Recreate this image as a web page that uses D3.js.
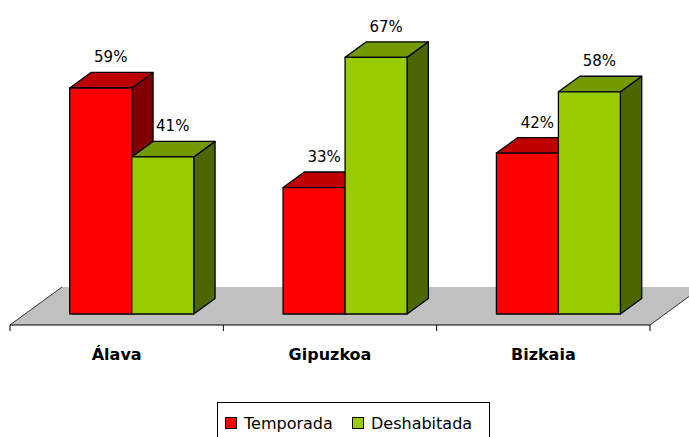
<!DOCTYPE html>
<html>
<head>
<meta charset="utf-8">
<script src="https://cdn.jsdelivr.net/npm/d3@7"></script>
<style>
  body { margin: 0; background: #fff; }
  svg { display: block; }
</style>
</head>
<body>
<svg id="chart"></svg>
<script>
//data
const categories = ['Álava', 'Gipuzkoa', 'Bizkaia'];
const seriesNames = ['Temporada', 'Deshabitada'];
const temporada = [59, 33, 42];
const deshabitada = [41, 67, 58];

//layout constants
const svgWidth = 689;
const svgHeight = 437;
const floorLeft = 10;
const floorRight = 650;
const floorY = 325;
const floorDx = 52, floorDy = -38;      // full depth of the floor
const barD0 = 0.29, barD1 = 0.70;       // bar front / back as fraction of floor depth
const groupWidth = 124;

//colours: front, top, side
const palette = {
  Temporada:   { front: '#ff0000', top: '#bf0000', side: '#800000' },
  Deshabitada: { front: '#99cc00', top: '#739900', side: '#4c6600' }
};

var svg = d3.select('#chart')
  .attr('width', svgWidth)
  .attr('height', svgHeight)
  .style('font-family', '"DejaVu Sans", sans-serif');

//scales
var xScale = d3.scaleBand()
  .domain(categories)
  .range([floorLeft, floorRight]);

var xSub = d3.scaleBand()
  .domain(seriesNames)
  .range([0, groupWidth]);

var hScale = d3.scaleLinear()
  .domain([0, 100])
  .range([0, 383]);

function proj(x, d) {
  return [x + floorDx * d, floorY + floorDy * d];
}

//floor
var fl = [proj(floorLeft, 0), proj(floorRight, 0), proj(floorRight, 1), proj(floorLeft, 1)];
svg.append('polygon')
  .attr('points', fl.map(p => p.join(',')).join(' '))
  .attr('fill', '#c0c0c0');
svg.append('line')
  .attr('x1', fl[0][0]).attr('y1', fl[0][1]).attr('x2', fl[3][0]).attr('y2', fl[3][1])
  .attr('stroke', '#333').attr('stroke-width', 1);
svg.append('line')
  .attr('x1', fl[1][0]).attr('y1', fl[1][1]).attr('x2', fl[2][0]).attr('y2', fl[2][1])
  .attr('stroke', '#333').attr('stroke-width', 1);
svg.append('line')
  .attr('x1', fl[0][0]).attr('y1', floorY).attr('x2', fl[1][0]).attr('y2', floorY)
  .attr('stroke', '#000').attr('stroke-width', 1);

//ticks at category boundaries
var tickPos = categories.map(c => xScale(c)).concat([floorRight]);
svg.selectAll('.tick')
  .data(tickPos)
  .enter()
  .append('line')
    .attr('x1', d => d).attr('x2', d => d)
    .attr('y1', floorY).attr('y2', floorY + 6)
    .attr('stroke', '#000');

//bars as rows
var rows = [];
categories.forEach((c, i) => {
  rows.push({ cat: c, series: 'Temporada', value: temporada[i] });
  rows.push({ cat: c, series: 'Deshabitada', value: deshabitada[i] });
});

function barGeom(r) {
  var x0 = xScale(r.cat) + xScale.bandwidth() / 2 - groupWidth / 2 + xSub(r.series);
  var x1 = x0 + xSub.bandwidth();
  var h = hScale(r.value);
  var fb = proj(x0, barD0), fb2 = proj(x1, barD0);
  var bb = proj(x0, barD1), bb2 = proj(x1, barD1);
  return {
    front: [[fb[0], fb[1] - h], [fb2[0], fb2[1] - h], [fb2[0], fb2[1]], [fb[0], fb[1]]],
    top: [[fb[0], fb[1] - h], [fb2[0], fb2[1] - h], [bb2[0], bb2[1] - h], [bb[0], bb[1] - h]],
    side: [[fb2[0], fb2[1] - h], [bb2[0], bb2[1] - h], [bb2[0], bb2[1]], [fb2[0], fb2[1]]],
    labelX: (fb[0] + fb2[0]) / 2 + 10,
    labelY: bb[1] - h - 10
  };
}

var bars = svg.selectAll('.bar')
  .data(rows)
  .enter()
  .append('g')
    .classed('bar', true);

['side', 'top', 'front'].forEach(face => {
  bars.append('polygon')
    .attr('points', d => barGeom(d)[face].map(p => p.join(',')).join(' '))
    .attr('fill', d => palette[d.series][face])
    .attr('stroke', '#000')
    .attr('stroke-width', 1.3)
    .attr('stroke-linejoin', 'round');
});

//value labels
svg.selectAll('.vlabel')
  .data(rows)
  .enter()
  .append('text')
    .attr('x', d => barGeom(d).labelX)
    .attr('y', d => barGeom(d).labelY)
    .attr('text-anchor', 'middle')
    .attr('font-size', '15px')
    .attr('fill', '#000')
    .text(d => d.value + '%');

//category labels
svg.selectAll('.clabel')
  .data(categories)
  .enter()
  .append('text')
    .attr('x', d => xScale(d) + xScale.bandwidth() / 2)
    .attr('y', 360)
    .attr('text-anchor', 'middle')
    .attr('font-size', '16px')
    .attr('font-weight', 'bold')
    .text(d => d);

//legend
var legend = svg.append('g').attr('transform', 'translate(217, 402)');
legend.append('rect')
  .attr('x', 0.5).attr('y', 0.5)
  .attr('width', 272).attr('height', 44)
  .attr('fill', '#fff').attr('stroke', '#000');
var legendX = [8, 135];
var items = legend.selectAll('.item')
  .data(seriesNames)
  .enter()
  .append('g')
    .attr('transform', (d, i) => `translate(${legendX[i]}, 0)`);
items.append('rect')
  .attr('x', 0.5).attr('y', 15.5)
  .attr('width', 11).attr('height', 11)
  .attr('fill', d => palette[d].front)
  .attr('stroke', '#000');
items.append('text')
  .attr('x', 19).attr('y', 27)
  .attr('font-size', '16px')
  .text(d => d);
</script>
</body>
</html>
